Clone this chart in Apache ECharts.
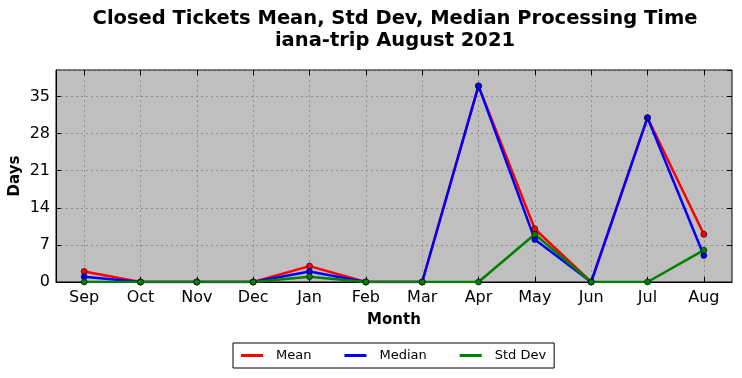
<!DOCTYPE html>
<html>
<head>
<meta charset="utf-8">
<script src="https://cdn.jsdelivr.net/npm/echarts@6/dist/echarts.min.js"></script>
<style>
html,body{margin:0;padding:0;background:#fff;}
#chart{width:742px;height:378px;}
</style>
</head>
<body>
<div id="chart"></div>
<script>
const months = ['Sep','Oct','Nov','Dec','Jan','Feb','Mar','Apr','May','Jun','Jul','Aug'];
const meanValues = [2, 0, 0, 0, 3, 0, 0, 37, 10, 0, 31, 9];
const medianValues = [1, 0, 0, 0, 2, 0, 0, 37, 8, 0, 31, 5];
const stdValues = [0, 0, 0, 0, 1, 0, 0, 0, 9, 0, 0, 6];
const yTicks = [0, 7, 14, 21, 28, 35];

const font = 'DejaVu Sans';
const monthIdx = months.map((m, i) => i);
const chart = echarts.init(document.getElementById('chart'), null, {renderer: 'canvas'});

function lineSeries(name, data, color) {
  return {
    name: name, type: 'line',
    data: data.map((v, i) => [i, v]),
    xAxisIndex: 0, yAxisIndex: 0,
    symbol: 'circle', symbolSize: 6,
    lineStyle: {color: color, width: 2.5},
    itemStyle: {color: color, borderColor: '#000', borderWidth: 0.6},
    emphasis: {disabled: true},
    animation: false
  };
}

const tickStyle = {show: true, inside: true, length: 5, lineStyle: {color: '#000', width: 1}};
const gridLine = {show: true, lineStyle: {color: '#808080', type: [2, 3], width: 0.8}};

chart.setOption({
  animation: false,
  title: {
    text: 'Closed Tickets Mean, Std Dev, Median Processing Time\niana-trip August 2021',
    left: 395, top: 8, textAlign: 'center', padding: 0,
    textStyle: {fontFamily: font, fontSize: 19.5, fontWeight: 'bold', color: '#000', lineHeight: 22}
  },
  grid: {left: 56, right: 10, top: 70, bottom: 96, outerBoundsMode: 'none', containLabel: false,
    show: true, backgroundColor: '#bfbfbf', borderColor: '#000', borderWidth: 1},
  legend: {
    data: ['Mean', 'Median', 'Std Dev'],
    left: 233, top: 343, width: 322, height: 25,
    padding: [6, 8, 6, 8],
    itemGap: 33,
    borderColor: '#000', borderWidth: 1,
    itemWidth: 22, itemHeight: 3,
    icon: 'rect',
    itemStyle: {borderWidth: 0},
    textStyle: {fontFamily: font, fontSize: 13, color: '#000', padding: [0, 0, 0, 8]}
  },
  xAxis: [{
    type: 'value', min: -0.5, max: 11.5,
    name: 'Month', nameLocation: 'middle', nameGap: 31, nameMoveOverlap: false,
    nameTextStyle: {fontFamily: font, fontSize: 15, fontWeight: 'bold', color: '#000'},
    axisLine: {show: true, onZero: false, lineStyle: {color: '#000', width: 1}},
    axisTick: Object.assign({customValues: monthIdx}, tickStyle),
    axisLabel: {customValues: monthIdx, fontFamily: font, fontSize: 16, color: '#000', margin: 8,
      formatter: v => months[Math.round(v)] || ''},
    splitLine: gridLine
  }, {
    type: 'value', min: -0.5, max: 11.5, position: 'top',
    axisLine: {show: false, onZero: false},
    axisTick: Object.assign({customValues: monthIdx}, tickStyle),
    axisLabel: {show: false},
    splitLine: {show: false}
  }],
  yAxis: [{
    type: 'value', min: 0, max: 40, interval: 7, position: 'left',
    name: 'Days', nameLocation: 'middle', nameGap: 33, nameMoveOverlap: false,
    nameTextStyle: {fontFamily: font, fontSize: 15, fontWeight: 'bold', color: '#000'},
    axisLine: {show: true, onZero: false, lineStyle: {color: '#000'}},
    axisTick: tickStyle,
    axisLabel: {fontFamily: font, fontSize: 16, color: '#000', margin: 6, showMaxLabel: false,
      formatter: v => yTicks.indexOf(v) >= 0 ? String(v) : ''},
    splitLine: gridLine
  }, {
    type: 'value', min: 0, max: 40, interval: 7, position: 'right',
    axisLine: {show: false, onZero: false},
    axisTick: tickStyle,
    axisLabel: {show: false},
    splitLine: {show: false}
  }],
  series: [
    lineSeries('Mean', meanValues, '#ff0000'),
    lineSeries('Median', medianValues, '#0000ff'),
    lineSeries('Std Dev', stdValues, '#008000')
  ]
});
</script>
</body>
</html>
